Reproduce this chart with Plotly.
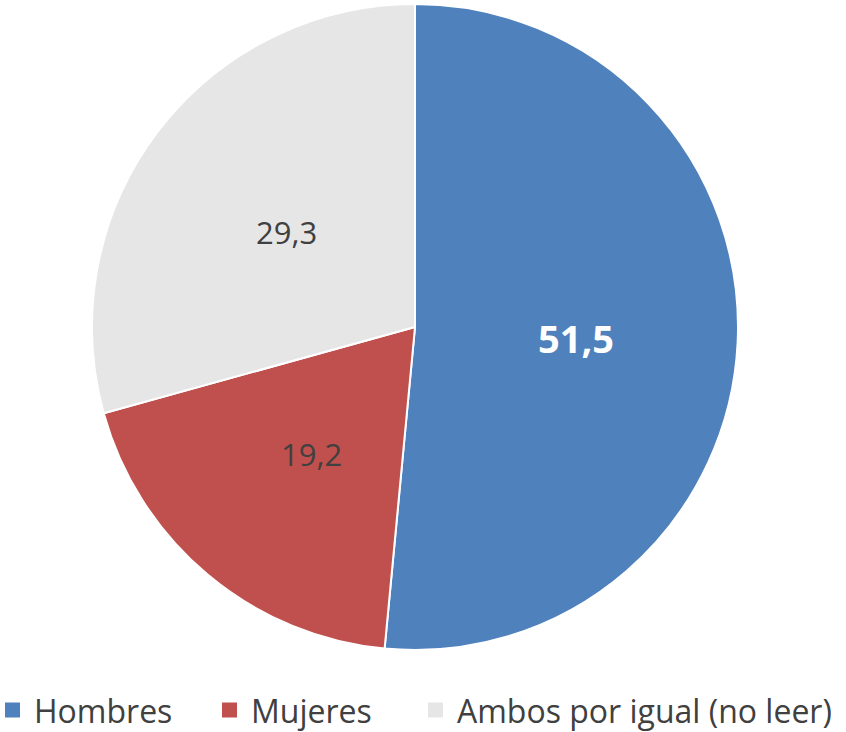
import math
import plotly.graph_objects as go

categories = ["Hombres", "Mujeres", "Ambos por igual (no leer)"]
values = [51.5, 19.2, 29.3]
text_labels = ["51,5", "19,2", "29,3"]
colors = ["#4F81BD", "#C0504D", "#E7E6E6"]
text_colors = ["#FFFFFF", "#404040", "#404040"]
text_sizes = [38, 31, 31]
text_weights = [700, 400, 400]

W, H = 846, 732
# pie geometry (pixels)
CX, CY, R = 415, 327, 323
LABEL_R = 0.5
legend_x = [5, 222, 428]
legend_y = 710
sq = 15

fig = go.Figure(go.Pie(
    labels=categories,
    values=values,
    textinfo="none",
    sort=False,
    direction="clockwise",
    rotation=0,
    marker=dict(colors=colors, line=dict(color="white", width=2)),
    domain=dict(x=[(CX - R) / W, (CX + R) / W], y=[1 - (CY + R) / H, 1 - (CY - R) / H]),
    hoverinfo="label+value",
    showlegend=False,
))

total = sum(values)
cum = 0.0
for v, t, c, s, w in zip(values, text_labels, text_colors, text_sizes, text_weights):
    mid = (cum + v / 2) / total * 2 * math.pi
    cum += v
    px = CX + LABEL_R * R * math.sin(mid)
    py = CY - LABEL_R * R * math.cos(mid) + 3
    fig.add_annotation(
        x=px / W, y=1 - py / H, xref="paper", yref="paper",
        text=t, showarrow=False, xanchor="center", yanchor="middle",
        font=dict(family="Open Sans", size=s, color=c, weight=w),
    )

for name, col, lx in zip(categories, colors, legend_x):
    fig.add_shape(
        type="rect", xref="paper", yref="paper",
        x0=lx / W, x1=(lx + sq) / W,
        y0=1 - (legend_y + sq / 2) / H, y1=1 - (legend_y - sq / 2) / H,
        fillcolor=col, line=dict(width=0),
    )
    fig.add_annotation(
        x=(lx + sq + 12) / W, y=1 - legend_y / H, xref="paper", yref="paper",
        text=name, showarrow=False, xanchor="left", yanchor="middle",
        font=dict(family="Open Sans", size=32, color="#404040"),
    )

fig.update_layout(
    width=W, height=H,
    margin=dict(l=0, r=0, t=0, b=0, autoexpand=False),
    paper_bgcolor="white",
    plot_bgcolor="white",
    font=dict(family="Open Sans", color="#404040"),
    showlegend=False,
)
fig.write_html(
    "out.html",
    config={"displayModeBar": False},
    post_script="document.body.style.margin='0';document.body.style.padding='0';",
)
